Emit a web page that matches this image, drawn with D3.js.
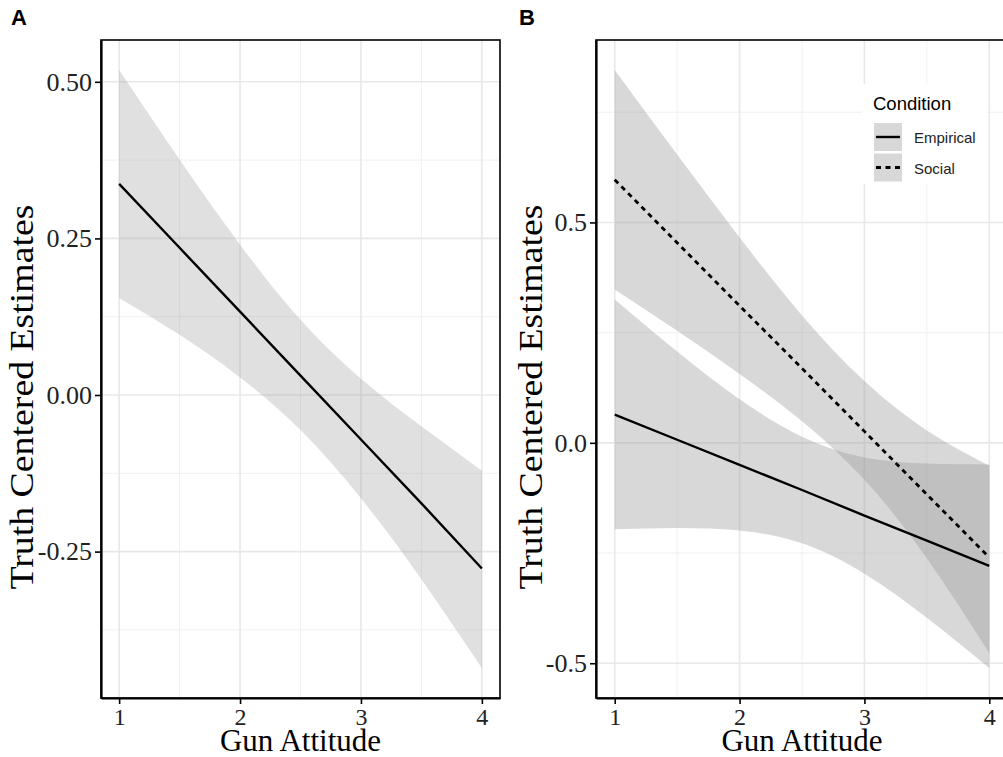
<!DOCTYPE html>
<html>
<head>
<meta charset="utf-8">
<script src="https://cdn.jsdelivr.net/npm/d3@7/dist/d3.min.js"></script>
<style>
body { margin: 0; background: #fff; }
svg { display: block; }
.tick-label { font-family: "Liberation Serif", "Times New Roman", serif; fill: #222; }
.axis-title { font-family: "Liberation Serif", "Times New Roman", serif; fill: #000; }
.panel-tag { font-family: "Liberation Sans", Arial, sans-serif; font-weight: bold; }
.legend { font-family: "Liberation Sans", Arial, sans-serif; }
</style>
</head>
<body>
<div id="chart"></div>
<script>

// gun attitude values where the fitted lines / bands were read
var gunX = [1, 1.5, 2, 2.5, 3, 3.5, 4];

// panel A : single model
var aFit   = [0.337, 0.235, 0.133, 0.031, -0.071, -0.173, -0.277];
var aUpper = [0.519, 0.376, 0.240, 0.120, 0.026, -0.050, -0.121];
var aLower = [0.155, 0.096, 0.028, -0.056, -0.165, -0.294, -0.436];

// panel B : by condition
var empFit   = [0.064, 0.007, -0.050, -0.107, -0.165, -0.222, -0.279];
var empUpper = [0.325, 0.207, 0.099, 0.014, -0.033, -0.047, -0.049];
var empLower = [-0.196, -0.193, -0.199, -0.228, -0.297, -0.397, -0.511];

var socFit   = [0.597, 0.454, 0.311, 0.169, 0.026, -0.117, -0.260];
var socUpper = [0.846, 0.654, 0.466, 0.289, 0.140, 0.028, -0.052];
var socLower = [0.348, 0.254, 0.156, 0.049, -0.084, -0.262, -0.477];

var xTicks = [1, 2, 3, 4];
var aYTicks = [-0.25, 0, 0.25, 0.5];
var aYLabels = ["-0.25", "0.00", "0.25", "0.50"];
var bYTicks = [-0.5, 0, 0.5];
var bYLabels = ["-0.5", "0.0", "0.5"];

var conditions = ["Empirical", "Social"];

var width = 1003, height = 757;

var svg = d3.select("#chart").append("svg")
  .attr("width", width)
  .attr("height", height);

svg.append("rect").attr("width", width).attr("height", height).attr("fill", "#fff");

function zip(lo, hi, fit) {
  return gunX.map(function(x, i) { return { x: x, lo: lo[i], hi: hi[i], fit: fit ? fit[i] : null }; });
}

function expand(lo, hi) {
  var pad = (hi - lo) * 0.05;
  return [lo - pad, hi + pad];
}

function drawPanel(opt) {
  var g = svg.append("g");
  var x = d3.scaleLinear().domain(expand(1, 4)).range([opt.left, opt.right]);
  var allLo = d3.min(opt.bands, function(b) { return d3.min(b.lo); });
  var allHi = d3.max(opt.bands, function(b) { return d3.max(b.hi); });
  var y = d3.scaleLinear().domain(expand(allLo, allHi)).range([opt.bottom, opt.top]);

  var clipId = "clip-" + opt.tag;
  svg.append("clipPath").attr("id", clipId)
    .append("rect")
    .attr("x", opt.left).attr("y", opt.top)
    .attr("width", opt.right - opt.left).attr("height", opt.bottom - opt.top);

  var plot = g.append("g").attr("clip-path", "url(#" + clipId + ")");

  // minor grid
  var xMinor = [1.5, 2.5, 3.5];
  var yMinor = opt.yTicks.slice(0, -1).map(function(t, i) { return (t + opt.yTicks[i + 1]) / 2; });
  var step = opt.yTicks[1] - opt.yTicks[0];
  yMinor.unshift(opt.yTicks[0] - step / 2);
  yMinor.push(opt.yTicks[opt.yTicks.length - 1] + step / 2);

  plot.selectAll(".gx-minor").data(xMinor).enter().append("line")
    .attr("x1", x).attr("x2", x).attr("y1", opt.top).attr("y2", opt.bottom)
    .attr("stroke", "#f0f0f0").attr("stroke-width", 1);
  plot.selectAll(".gy-minor").data(yMinor).enter().append("line")
    .attr("y1", y).attr("y2", y).attr("x1", opt.left).attr("x2", opt.right)
    .attr("stroke", "#f0f0f0").attr("stroke-width", 1);

  // major grid
  plot.selectAll(".gx").data(xTicks).enter().append("line")
    .attr("x1", x).attr("x2", x).attr("y1", opt.top).attr("y2", opt.bottom)
    .attr("stroke", "#e8e8e8").attr("stroke-width", 1.6);
  plot.selectAll(".gy").data(opt.yTicks).enter().append("line")
    .attr("y1", y).attr("y2", y).attr("x1", opt.left).attr("x2", opt.right)
    .attr("stroke", "#e8e8e8").attr("stroke-width", 1.6);

  var area = d3.area()
    .x(function(d) { return x(d.x); })
    .y0(function(d) { return y(d.lo); })
    .y1(function(d) { return y(d.hi); })
    .curve(d3.curveNatural);

  opt.bands.forEach(function(b) {
    plot.append("path")
      .datum(zip(b.lo, b.hi))
      .attr("d", area)
      .attr("fill", "#999999")
      .attr("fill-opacity", opt.alpha);
  });

  var line = d3.line()
    .x(function(d) { return x(d.x); })
    .y(function(d) { return y(d.fit); });

  opt.bands.forEach(function(b) {
    plot.append("path")
      .datum(zip(b.lo, b.hi, b.fit))
      .attr("d", line)
      .attr("fill", "none")
      .attr("stroke", "#000")
      .attr("stroke-width", b.dash ? 2.8 : 2.4)
      .attr("stroke-dasharray", b.dash ? "5,4.5" : null);
  });

  // panel border
  g.append("rect")
    .attr("x", opt.left).attr("y", opt.top)
    .attr("width", opt.right - opt.left).attr("height", opt.bottom - opt.top)
    .attr("fill", "none").attr("stroke", "#000").attr("stroke-width", 1.6);

  // x axis
  var xAxis = g.append("g").attr("transform", "translate(0," + opt.bottom + ")")
    .call(d3.axisBottom(x).tickValues(xTicks).tickSize(6).tickSizeOuter(0).tickPadding(4)
      .tickFormat(d3.format("d")));
  xAxis.select(".domain").attr("stroke-width", 2.2);
  xAxis.selectAll(".tick line").attr("stroke-width", 1.6);
  xAxis.selectAll(".tick text").attr("class", "tick-label").attr("font-size", 24).attr("fill", "#222");

  var yAxis = g.append("g").attr("transform", "translate(" + opt.left + ",0)")
    .call(d3.axisLeft(y).tickValues(opt.yTicks).tickSize(6).tickSizeOuter(0).tickPadding(3)
      .tickFormat(function(d, i) { return opt.yLabels[i]; }));
  yAxis.select(".domain").attr("stroke-width", 2.2);
  yAxis.selectAll(".tick line").attr("stroke-width", 1.6);
  yAxis.selectAll(".tick text").attr("class", "tick-label").attr("font-size", 26).attr("fill", "#222");

  g.append("text").attr("class", "axis-title")
    .attr("x", x(2.5)).attr("y", 751)
    .attr("text-anchor", "middle").attr("font-size", 31)
    .text("Gun Attitude");

  g.append("text").attr("class", "axis-title")
    .attr("transform", "translate(" + opt.yTitleX + ",397) rotate(-90)")
    .attr("text-anchor", "middle").attr("font-size", 33)
    .attr("textLength", 385).attr("lengthAdjust", "spacingAndGlyphs")
    .text("Truth Centered Estimates");

  g.append("text").attr("class", "panel-tag")
    .attr("x", opt.tagX).attr("y", 25)
    .attr("font-size", 22)
    .text(opt.tag);

  return { x: x, y: y };
}

drawPanel({
  tag: "A", tagX: 11, left: 101, right: 500, top: 40, bottom: 698,
  yTitleX: 33, alpha: 0.3,
  yTicks: aYTicks, yLabels: aYLabels,
  bands: [{ lo: aLower, hi: aUpper, fit: aFit }]
});

drawPanel({
  tag: "B", tagX: 519, left: 596, right: 1008, top: 40, bottom: 698,
  yTitleX: 542, alpha: 0.38,
  yTicks: bYTicks, yLabels: bYLabels,
  bands: [
    { lo: empLower, hi: empUpper, fit: empFit, dash: false },
    { lo: socLower, hi: socUpper, fit: socFit, dash: true }
  ]
});

// legend
var legend = svg.append("g").attr("class", "legend");
legend.append("rect")
  .attr("x", 862).attr("y", 84).attr("width", 125).attr("height", 100)
  .attr("fill", "#fff");
legend.append("text")
  .attr("x", 873).attr("y", 110)
  .attr("font-size", 18.5).attr("fill", "#000")
  .text("Condition");

var keys = legend.selectAll(".key").data(conditions).enter().append("g")
  .attr("transform", function(d, i) { return "translate(874," + (123 + i * 30.5) + ")"; });
keys.append("rect").attr("width", 28).attr("height", 28)
  .attr("fill", "#999999").attr("fill-opacity", 0.38);
keys.append("line")
  .attr("x1", 2).attr("x2", 26).attr("y1", 14).attr("y2", 14)
  .attr("stroke", "#000").attr("stroke-width", function(d, i) { return i === 1 ? 2.8 : 2.4; })
  .attr("stroke-dasharray", function(d, i) { return i === 1 ? "5,4.5" : null; });
keys.append("text")
  .attr("x", 40).attr("y", 20)
  .attr("font-size", 15).attr("fill", "#222")
  .text(function(d) { return d; });

</script>
</body>
</html>
